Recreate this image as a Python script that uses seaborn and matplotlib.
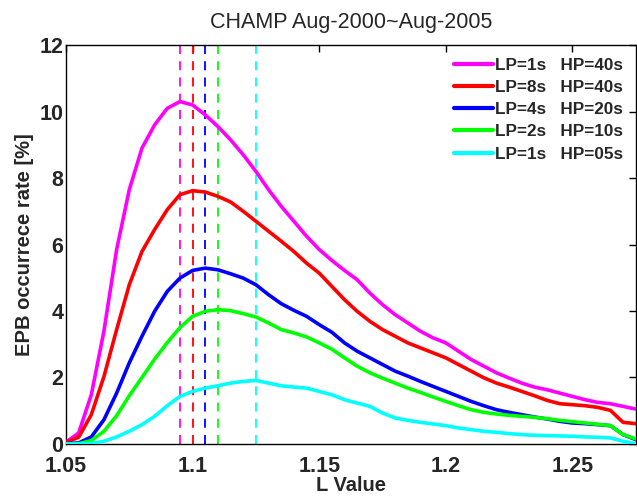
import numpy as np
import pandas as pd
import matplotlib
matplotlib.use("Agg")
import matplotlib.pyplot as plt
import seaborn as sns

# ------------------------------------------------------------
# Data
# ------------------------------------------------------------

l_value = [1.05, 1.055, 1.06, 1.065, 1.07, 1.075, 1.08, 1.085, 1.09, 1.095,
           1.1, 1.105, 1.11, 1.115, 1.12, 1.125, 1.13, 1.135, 1.14, 1.145,
           1.15, 1.155, 1.16, 1.165, 1.17, 1.175, 1.18, 1.185, 1.19, 1.195,
           1.2, 1.205, 1.21, 1.215, 1.22, 1.225, 1.23, 1.235, 1.24, 1.245,
           1.25, 1.255, 1.26, 1.265, 1.27, 1.275]

lp1_hp40 = [0.05, 0.33, 1.48, 3.4, 5.85, 7.65, 8.9, 9.6, 10.1, 10.3,
            10.2, 9.9, 9.55, 9.15, 8.7, 8.2, 7.65, 7.15, 6.7, 6.25,
            5.85, 5.52, 5.22, 4.94, 4.54, 4.19, 3.89, 3.64, 3.39, 3.19,
            3.04, 2.79, 2.54, 2.34, 2.14, 1.98, 1.83, 1.71, 1.63, 1.53,
            1.43, 1.33, 1.25, 1.21, 1.13, 1.05]

lp8_hp40 = [0.05, 0.2, 0.88, 2.03, 3.44, 4.79, 5.79, 6.45, 7.05, 7.5,
            7.62, 7.58, 7.45, 7.28, 7.0, 6.7, 6.4, 6.1, 5.79, 5.44,
            5.14, 4.74, 4.34, 3.99, 3.69, 3.44, 3.24, 3.04, 2.89, 2.74,
            2.59, 2.39, 2.19, 1.99, 1.83, 1.71, 1.58, 1.45, 1.31, 1.21,
            1.18, 1.15, 1.10, 1.01, 0.65, 0.61]

lp4_hp20 = [0.01, 0.03, 0.21, 0.73, 1.53, 2.44, 3.24, 3.99, 4.59, 4.99,
            5.22, 5.29, 5.24, 5.12, 4.99, 4.79, 4.49, 4.22, 4.02, 3.84,
            3.59, 3.36, 3.04, 2.79, 2.59, 2.39, 2.19, 2.04, 1.88, 1.73,
            1.58, 1.43, 1.28, 1.15, 1.03, 0.95, 0.88, 0.81, 0.75, 0.68,
            0.63, 0.61, 0.58, 0.55, 0.28, 0.13]

lp2_hp10 = [0.0, 0.01, 0.1, 0.38, 0.85, 1.45, 2.0, 2.55, 3.05, 3.5,
            3.84, 3.99, 4.04, 4.01, 3.92, 3.82, 3.64, 3.44, 3.34, 3.22,
            3.04, 2.85, 2.59, 2.34, 2.14, 1.98, 1.83, 1.68, 1.55, 1.41,
            1.28, 1.15, 1.03, 0.95, 0.90, 0.86, 0.83, 0.80, 0.76, 0.71,
            0.67, 0.63, 0.59, 0.55, 0.28, 0.15]

lp1_hp05 = [0.0, 0.0, 0.01, 0.08, 0.21, 0.38, 0.58, 0.83, 1.15, 1.43,
            1.58, 1.68, 1.75, 1.83, 1.88, 1.91, 1.83, 1.75, 1.71, 1.68,
            1.58, 1.48, 1.33, 1.23, 1.13, 0.93, 0.78, 0.71, 0.65, 0.60,
            0.55, 0.48, 0.43, 0.38, 0.35, 0.31, 0.28, 0.26, 0.25, 0.24,
            0.23, 0.21, 0.20, 0.18, 0.08, 0.0]

labels = ["LP=1s   HP=40s", "LP=8s   HP=40s", "LP=4s   HP=20s",
          "LP=2s   HP=10s", "LP=1s   HP=05s"]
colors = ["#ff00ff", "#ff0000", "#0000ff", "#00ff00", "#00ffff"]
peak_l = [1.095, 1.1, 1.105, 1.11, 1.125]

series = [lp1_hp40, lp8_hp40, lp4_hp20, lp2_hp10, lp1_hp05]

df = pd.concat(
    [pd.DataFrame({"L": l_value, "rate": s, "filter": lab})
     for s, lab in zip(series, labels)],
    ignore_index=True
)

# ------------------------------------------------------------
# Plot
# ------------------------------------------------------------

sns.set_style("white")
plt.rcParams["font.family"] = ["Liberation Sans", "DejaVu Sans"]

fig = plt.figure(figsize=(6.37, 4.96), dpi=100)
ax = fig.add_axes([0.1036, 0.105, 0.8944, 0.804])

# dashed markers at each curve's peak
for x, c in zip(peak_l, colors):
    ax.axvline(x, color=c, linestyle=(0, (5, 4)), linewidth=1.3, zorder=1)

sns.lineplot(
    data=df, x="L", y="rate", hue="filter",
    palette=dict(zip(labels, colors)), hue_order=labels,
    linewidth=2.6, ax=ax, zorder=3
)

ax.set_xlim(1.05, 1.275)
ax.set_ylim(0, 12)
ax.set_xticks([1.05, 1.1, 1.15, 1.2, 1.25])
ax.set_xticklabels(["1.05", "1.1", "1.15", "1.2", "1.25"])
ax.set_yticks([0, 2, 4, 6, 8, 10, 12])

ax.tick_params(direction="in", length=5, width=1, top=True, right=True,
               labelsize=15.5, color="black")
ax.tick_params(axis="x", pad=9)
ax.tick_params(axis="y", pad=2)
for lab in ax.get_xticklabels() + ax.get_yticklabels():
    lab.set_fontweight("bold")

for sp in ax.spines.values():
    sp.set_color("black")
    sp.set_linewidth(1)

ax.set_xlabel("L Value", fontsize=14.5, fontweight="bold", labelpad=-1)
ax.set_ylabel("EPB occurrece rate [%]", fontsize=14.5, fontweight="bold",
              labelpad=4)
ax.set_title("CHAMP Aug-2000~Aug-2005", fontsize=15.5, pad=12)

leg = ax.legend(loc="upper right", frameon=False, fontsize=12.3,
                handlelength=2.3, handletextpad=0.1, labelspacing=0.42,
                borderaxespad=0.45, borderpad=0.3)
for t in leg.get_texts():
    t.set_fontweight("bold")
for h in leg.get_lines():
    h.set_linewidth(3)

fig.savefig("out.png", dpi=100)
